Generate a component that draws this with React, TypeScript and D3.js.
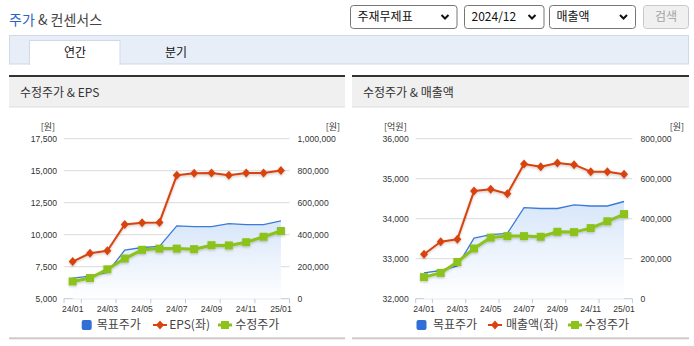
import React from 'react';
import * as d3 from 'd3';

const categories = ['24/01','24/02','24/03','24/04','24/05','24/06','24/07','24/08','24/09','24/10','24/11','24/12','25/01'];
const xTickLabels = ['24/01','24/03','24/05','24/07','24/09','24/11','25/01'];
const targetPrice = [129000, 141000, 164000, 303000, 320000, 327000, 455500, 451000, 451000, 469000, 463500, 463500, 486000];
const adjPrice = [108000, 129000, 183500, 251000, 305500, 313000, 313000, 309500, 334500, 333000, 353000, 387000, 423000];
const eps = [7900, 8550, 8750, 10800, 10930, 10960, 14640, 14800, 14820, 14640, 14820, 14820, 15020];
const sales = [33110, 33425, 33485, 34690, 34735, 34625, 35370, 35300, 35390, 35350, 35175, 35175, 35110];
const epsTicks = [5000, 7500, 10000, 12500, 15000, 17500];
const priceTicksA = [0, 200000, 400000, 600000, 800000, 1000000];
const salesTicks = [32000, 33000, 34000, 35000, 36000];
const priceTicksB = [0, 200000, 400000, 600000, 800000];

const FONT_NUM = '"Liberation Sans", Arial, sans-serif';
const FONT_KR = '"Noto Sans CJK KR", "Noto Sans", sans-serif';
const fmt = d3.format(',');

const RED = '#d8430f';
const GREEN = '#8cc21a';
const BLUE = '#3b7ad9';

type ChartProps = {
  id: string;
  px0: number; px1: number;
  x0: number; x1: number;
  title: string;
  leftVals: number[]; leftDomain: [number, number]; leftTicks: number[];
  rightDomain: [number, number]; rightTicks: number[];
  leftUnit: string; rightUnit: string;
  leftName: string;
  legendStart: number;
  legendOffsets: number[];
};

function Chart(p: ChartProps) {
  const yTop = 138.7, yBot = 298.7;
  const x = d3.scaleBand<string>().domain(categories).range([p.x0, p.x1]).padding(0);
  const cx = (c: string) => (x(c) as number) + x.bandwidth() / 2;
  const yl = d3.scaleLinear().domain(p.leftDomain).range([yBot, yTop]);
  const yr = d3.scaleLinear().domain(p.rightDomain).range([yBot, yTop]);
  const lineL = d3.line<number>().x((_, i) => cx(categories[i])).y(v => yl(v));
  const lineR = d3.line<number>().x((_, i) => cx(categories[i])).y(v => yr(v));
  const area = d3.area<number>().x((_, i) => cx(categories[i])).y0(yBot).y1(v => yr(v));
  const tickXs = [p.x0, ...categories.filter((_, i) => i % 2 === 0).map(c => (x(c) as number) + x.bandwidth())];
  const diamond = 'M0,-4.5L4,0L0,4.5L-4,0Z';
  const lg = p.legendStart, o = p.legendOffsets;
  const ly = 325;
  return (
    <g>
      <defs>
        <linearGradient id={p.id + 'grad'} x1="0" y1="0" x2="0" y2="1">
          <stop offset="0" stopColor="#d7e6f9" />
          <stop offset="1" stopColor="#ffffff" />
        </linearGradient>
        <filter id={p.id + 'sh'} x="-10%" y="-10%" width="120%" height="130%">
          <feDropShadow dx="0" dy="1.2" stdDeviation="0.8" floodColor="#000" floodOpacity="0.22" />
        </filter>
      </defs>
      <rect x={p.px0} y={75} width={p.px1 - p.px0} height={2} fill="#333" />
      <rect x={p.px0} y={77} width={p.px1 - p.px0} height={30} fill="#f0f0f0" />
      <rect x={p.px0} y={106.5} width={p.px1 - p.px0} height={1} fill="#dddddd" />
      <text x={p.px0 + 11} y={96.8} fontFamily={FONT_KR} fontSize={12} fill="#333">{p.title}</text>
      <rect x={p.px0} y={337.3} width={p.px1 - p.px0} height={2} fill="#cacaca" />

      {p.leftTicks.map(t => (
        <line key={'g' + t} x1={p.x0} x2={p.x1} y1={yl(t)} y2={yl(t)} stroke={t === p.leftDomain[0] ? '#bccbe0' : '#dadada'} strokeWidth={1} />
      ))}
      {tickXs.map((tx, i) => (
        <line key={'t' + i} x1={tx} x2={tx} y1={yBot} y2={yBot + 4.5} stroke="#bccbe0" strokeWidth={1} />
      ))}
      {p.leftTicks.map(t => (
        <text key={'l' + t} x={p.x0 - 7} y={yl(t) + 3} textAnchor="end" fontFamily={FONT_NUM} fontSize={8.6} fill="#333">{fmt(t)}</text>
      ))}
      {p.rightTicks.map(t => (
        <text key={'r' + t} x={p.x1 + 8} y={yr(t) + 3} textAnchor="start" fontFamily={FONT_NUM} fontSize={8.6} fill="#333">{fmt(t)}</text>
      ))}
      {categories.map((c, i) => xTickLabels.includes(c) ? (
        <text key={'x' + c} x={cx(c)} y={312.3} textAnchor="middle" fontFamily={FONT_NUM} fontSize={8.6} fill="#333">{c}</text>
      ) : null)}
      <text x={p.x0 - 9} y={130} textAnchor="end" fontFamily={FONT_KR} fontSize={9} fill="#333">{p.leftUnit}</text>
      <text x={p.px1 - 5} y={130} textAnchor="end" fontFamily={FONT_KR} fontSize={9} fill="#333">{p.rightUnit}</text>

      <path d={area(targetPrice) || ''} fill={`url(#${p.id}grad)`} />
      <path d={lineR(targetPrice) || ''} fill="none" stroke={BLUE} strokeWidth={1.3} />

      <g filter={`url(#${p.id}sh)`}>
        <path d={lineL(p.leftVals) || ''} fill="none" stroke={RED} strokeWidth={2} strokeLinejoin="round" />
        {p.leftVals.map((v, i) => (
          <path key={'d' + i} d={diamond} transform={`translate(${cx(categories[i])},${yl(v)})`} fill={RED} />
        ))}
      </g>
      <g filter={`url(#${p.id}sh)`}>
        <path d={lineR(adjPrice) || ''} fill="none" stroke={GREEN} strokeWidth={3} strokeLinejoin="round" />
        {adjPrice.map((v, i) => (
          <rect key={'s' + i} x={cx(categories[i]) - 4} y={yr(v) - 4} width={8} height={8} fill={GREEN} />
        ))}
      </g>

      <rect x={lg} y={ly - 5} width={10} height={10} rx={2} fill="#2f6fd6" />
      <text x={lg + o[0]} y={ly + 4.3} fontFamily={FONT_KR} fontSize={12} fill="#444">목표주가</text>
      <line x1={lg + o[1] - 7} x2={lg + o[1] + 7} y1={ly} y2={ly} stroke={RED} strokeWidth={2} />
      <path d={diamond} transform={`translate(${lg + o[1]},${ly})`} fill={RED} />
      <text x={lg + o[2]} y={ly + 4.3} fontFamily={FONT_KR} fontSize={12} fill="#444">{p.leftName}</text>
      <line x1={lg + o[3] - 7} x2={lg + o[3] + 7} y1={ly} y2={ly} stroke={GREEN} strokeWidth={3} />
      <rect x={lg + o[3] - 4} y={ly - 4} width={8} height={8} fill={GREEN} />
      <text x={lg + o[4]} y={ly + 4.3} fontFamily={FONT_KR} fontSize={12} fill="#444">수정주가</text>
    </g>
  );
}

function Select({ x, w, label }: { x: number; w: number; label: string }) {
  return (
    <g>
      <rect x={x + 0.5} y={5.5} width={w} height={23} rx={3} fill="#fff" stroke="#767676" />
      <text x={x + 7.5} y={21} fontFamily={FONT_KR} fontSize={12} fill="#111">{label}</text>
      <path d={`M${x + w - 15},15 l3.5,3.5 l3.5,-3.5`} fill="none" stroke="#111" strokeWidth={2} />
    </g>
  );
}

export default function App() {
  return (
    <div style={{ position: 'fixed', left: 0, top: 0, width: 694, height: 346, background: '#fff' }}>
      <svg width={694} height={346} style={{ display: 'block' }}>
        <text x={9} y={25} fontFamily={FONT_KR} fontSize={14}>
          <tspan fill="#2b63c6">주가</tspan>
          <tspan fill="#444"> &amp; 컨센서스</tspan>
        </text>
        <Select x={350} w={106.5} label="주재무제표" />
        <Select x={464} w={79.5} label="2024/12" />
        <Select x={549} w={86} label="매출액" />
        <rect x={643.5} y={5.5} width={45} height={23} rx={3} fill="#f0f0f0" stroke="#c9c9c9" />
        <text x={666} y={21} textAnchor="middle" fontFamily={FONT_KR} fontSize={12} fill="#a3a3a3">검색</text>

        <rect x={9.5} y={35.5} width={679} height={28.5} fill="#e8eef8" stroke="#cfd9ea" />
        <rect x={29.5} y={40.5} width={90.5} height={24} fill="#fff" stroke="#cfd9ea" />
        <rect x={30} y={63.5} width={89.5} height={2} fill="#fff" />
        <text x={75} y={56.5} textAnchor="middle" fontFamily={FONT_KR} fontSize={12} fill="#111">연간</text>
        <text x={176} y={56.5} textAnchor="middle" fontFamily={FONT_KR} fontSize={12} fill="#111">분기</text>

        <Chart id="a" px0={9} px1={345} x0={64} x1={289.6} title="수정주가 & EPS"
          leftVals={eps} leftDomain={[5000, 17500]} leftTicks={epsTicks}
          rightDomain={[0, 1000000]} rightTicks={priceTicksA}
          leftUnit="[원]" rightUnit="[원]" leftName="EPS(좌)"
          legendStart={81.7} legendOffsets={[15, 78.3, 87.5, 143.3, 153.5]} />
        <Chart id="b" px0={352} px1={689} x0={415.7} x1={632.4} title="수정주가 & 매출액"
          leftVals={sales} leftDomain={[32000, 36000]} leftTicks={salesTicks}
          rightDomain={[0, 800000]} rightTicks={priceTicksB}
          leftUnit="[억원]" rightUnit="[원]" leftName="매출액(좌)"
          legendStart={416.5} legendOffsets={[16.5, 78.5, 89.5, 158.5, 168.5]} />
      </svg>
    </div>
  );
}
